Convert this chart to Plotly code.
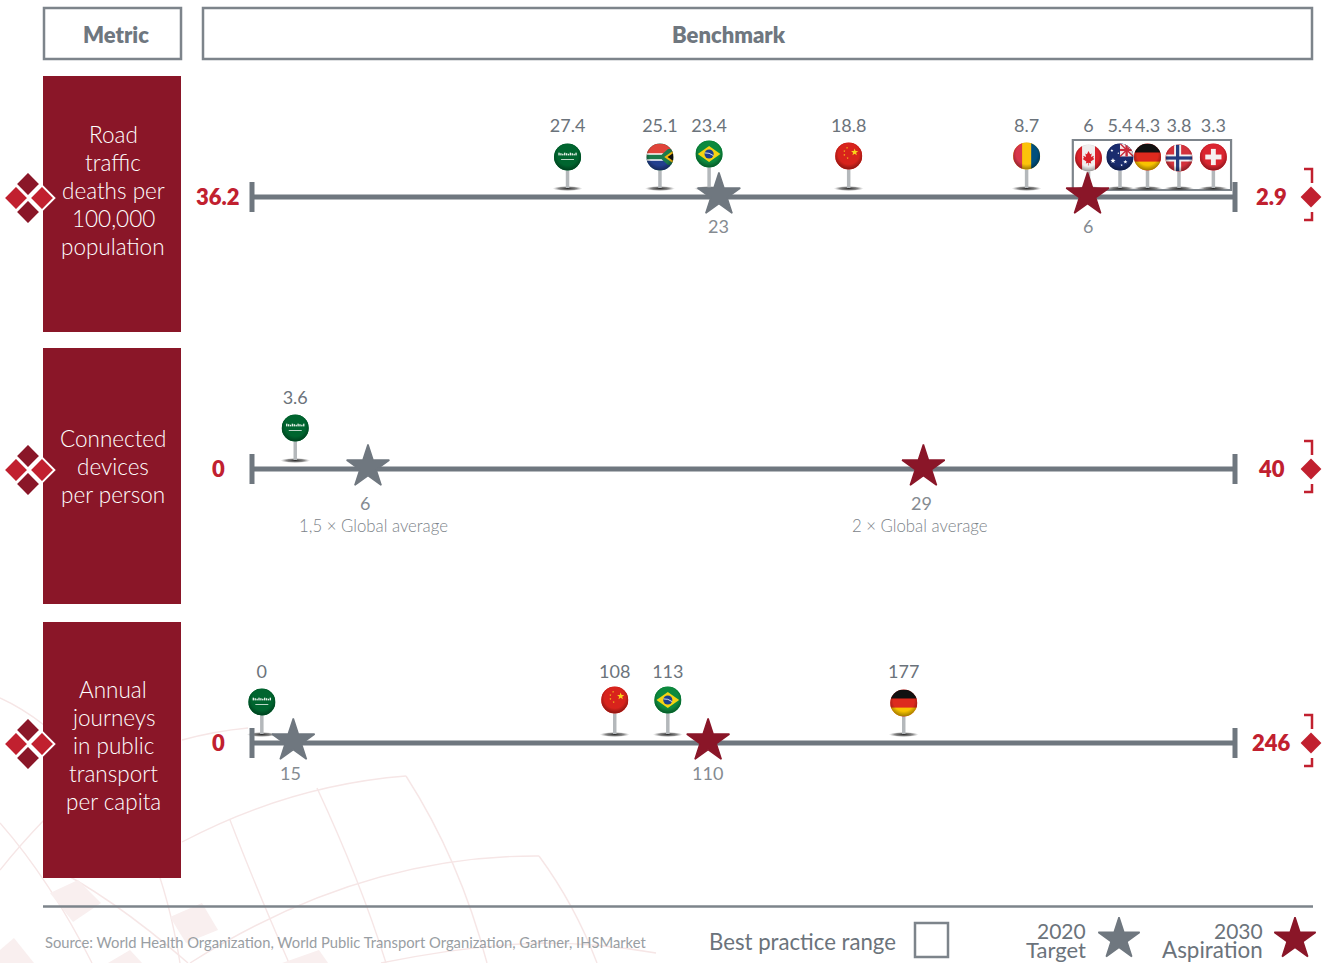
import base64
import math
import plotly.graph_objects as go

# ---------- data ----------
metrics = ["Road traffic deaths per 100,000 population", "Connected devices per person",
           "Annual journeys in public transport per capita"]
metric_lines = [["Road", "traffic", "deaths per", "100,000", "population"],
                ["Connected", "devices", "per person"],
                ["Annual", "journeys", "in public", "transport", "per capita"]]
scale_start = ["36.2", "0", "0"]
scale_end = ["2.9", "40", "246"]

road_countries = ["SA", "ZA", "BR", "CN", "RO", "CA", "AU", "DE", "NO", "CH"]
road_values = ["27.4", "25.1", "23.4", "18.8", "8.7", "6", "5.4", "4.3", "3.8", "3.3"]
road_pos = [32.1, 41.5, 46.5, 60.7, 78.8, 85.1, 88.3, 91.1, 94.3, 97.8]   # % along the bar
devices_countries = ["SA"]
devices_values = ["3.6"]
devices_pos = [4.4]
transport_countries = ["SA", "CN", "BR", "DE"]
transport_values = ["0", "108", "113", "177"]
transport_pos = [1.0, 36.9, 42.3, 66.3]

best_practice_range = [83.5, 99.6]   # % along the road-traffic bar
target_values = ["23", "6", "15"]
target_pos = [47.5, 11.8, 4.2]
aspiration_values = ["6", "29", "110"]
aspiration_pos = [85.0, 68.3, 46.4]
target_notes = ["", "1,5 × Global average", ""]
aspiration_notes = ["", "2 × Global average", ""]
source_text = "Source: World Health Organization, World Public Transport Organization, Gartner, IHSMarket"

# ---------- style ----------
W, H = 1325, 963
FONT = "Lato"
GREY = "#6f777f"
TXT = "#6b737b"
WINE = "#8a1628"
RED = "#c1202f"
BAR_L, BAR_R = 252, 1235
PAD = 30
ROW_TOP = [76, 348, 622]
ROW_H = 256
ROW_BAR = [197, 469, 743]
PX_PER_PCT = (BAR_R - BAR_L) / 100
LIFT = [[40, 40, 43, 41, 41, 39, 40, 40, 39, 40], [41], [41, 43, 43, 40]]
HEAD_COLOR = dict(SA="#00622f", ZA="#2f6b4f", BR="#0c8a3e", CN="#d8231c", RO="#f0b400", CA="#e8e4e4",
                  AU="#1d2f6f", DE="#d8231c", NO="#cf2f36", CH="#d9232e")


def svg_flag(body):
    s = ('<svg xmlns="http://www.w3.org/2000/svg" width="108" height="108" viewBox="-50 -50 100 100">'
         '<defs><clipPath id="c"><circle r="50"/></clipPath>'
         '<radialGradient id="g" cx="0.5" cy="0.42" r="0.62"><stop offset="0.62" stop-color="#000" stop-opacity="0"/>'
         '<stop offset="1" stop-color="#000" stop-opacity="0.45"/></radialGradient></defs>'
         f'<g clip-path="url(#c)">{body}<circle r="50" fill="url(#g)"/></g></svg>')
    return "data:image/svg+xml;base64," + base64.b64encode(s.encode()).decode()


def rect(x, y, w, h, c):
    return f'<rect x="{x}" y="{y}" width="{w}" height="{h}" fill="{c}"/>'


def star5(cx, cy, r, c):
    pts = []
    for i in range(10):
        a = -math.pi / 2 + i * math.pi / 5
        q = r if i % 2 == 0 else r * 0.42
        pts.append(f"{cx + q * math.cos(a):.1f},{cy + q * math.sin(a):.1f}")
    return f'<polygon points="{" ".join(pts)}" fill="{c}"/>'


FLAGS = {
    "SA": rect(-50, -50, 100, 100, "#00652f") + "".join(rect(-34 + i * 7, -16 + (i % 3) * 2, 5, 10 - (i % 3) * 2, "#e8f2ea") for i in range(10))
          + rect(-24, 8, 48, 3, "#e8f2ea"),
    "ZA": rect(-50, -50, 100, 50, "#e0443a") + rect(-50, 0, 100, 50, "#223f8f")
          + '<path d="M-50,-14 L8,-14 L50,-6 L50,6 L8,14 L-50,14 Z" fill="#fff"/>'
          + '<path d="M-50,-8 L6,-8 L30,-30 L50,-30 L50,30 L30,30 L6,8 L-50,8 Z" fill="#1b7a4b"/>'
          + '<path d="M50,-24 L16,0 L50,24 Z" fill="#f2b90f"/><path d="M50,-15 L28,0 L50,15 Z" fill="#111"/>',
    "BR": rect(-50, -50, 100, 100, "#0c8a3e") + '<path d="M-42,0 L0,-30 L42,0 L0,30 Z" fill="#f5d312"/>'
          + '<circle r="17" fill="#1d3f8f"/><path d="M-16,-4 Q0,-6 16,6" stroke="#fff" stroke-width="3" fill="none"/>',
    "CN": rect(-50, -50, 100, 100, "#d8231c") + star5(22, -14, 14, "#f8d21a") + star5(-6, -30, 4, "#f8d21a")
          + star5(-16, -18, 4, "#f8d21a") + star5(-16, -4, 4, "#f8d21a") + star5(-4, 8, 4, "#f8d21a"),
    "RO": rect(-50, -50, 34, 100, "#d9364a") + rect(-16, -50, 33, 100, "#fcc30b") + rect(17, -50, 33, 100, "#00507e"),
    "CA": rect(-50, -50, 100, 100, "#f0eeee") + rect(-50, -50, 26, 100, "#d9202a") + rect(24, -50, 26, 100, "#d9202a")
          + '<path d="M0,-26 L6,-14 L12,-17 L9,-4 L20,-8 L17,0 L22,4 L8,13 L10,20 L1,18 L1,28 L-1,28 L-1,18 L-10,20 L-8,13 L-22,4 L-17,0 L-20,-8 L-9,-4 L-12,-17 L-6,-14 Z" fill="#d9202a"/>',
    "AU": rect(-50, -50, 100, 100, "#1a2c6e") + rect(0, -50, 50, 48, "#f4e9ea")
          + '<path d="M0,-50 L50,-2 M50,-50 L0,-2" stroke="#c8283a" stroke-width="5"/>'
          + rect(20, -50, 9, 48, "#c8283a") + rect(0, -30, 50, 8, "#c8283a")
          + star5(-26, 14, 10, "#fff") + star5(-30, -24, 6, "#fff") + star5(20, 18, 8, "#fff") + star5(6, 30, 5, "#fff") + star5(-6, -14, 4, "#fff"),
    "DE": rect(-50, -50, 100, 34, "#111") + rect(-50, -16, 100, 33, "#dd2a1e") + rect(-50, 17, 100, 33, "#f8c200"),
    "NO": rect(-50, -50, 100, 100, "#d3323c") + rect(-50, -13, 100, 26, "#f2f2f2") + rect(-18, -50, 26, 100, "#f2f2f2")
          + rect(-50, -6, 100, 12, "#263c7f") + rect(-11, -50, 12, 100, "#263c7f"),
    "CH": rect(-50, -50, 100, 100, "#db2530") + rect(-30, -9, 60, 18, "#f6f0f0") + rect(-9, -30, 18, 60, "#f6f0f0"),
}

SHADOW = ('data:image/svg+xml;base64,' + base64.b64encode((
    '<svg xmlns="http://www.w3.org/2000/svg" width="90" height="12" viewBox="0 0 90 12"><defs>'
    '<radialGradient id="s"><stop offset="0" stop-color="#222" stop-opacity="0.95"/>'
    '<stop offset="0.6" stop-color="#555" stop-opacity="0.7"/><stop offset="1" stop-color="#999" stop-opacity="0"/></radialGradient></defs>'
    '<ellipse cx="45" cy="6" rx="45" ry="6" fill="url(#s)"/></svg>').encode()).decode())


def PX(x): return x / W
def PY(y): return 1 - y / H


shapes, annos, images = [], [], []


def line_path(d, color="#f6e6e6", width=1.4):
    shapes.append(dict(type="path", xref="x4", yref="y4", path=d, line=dict(color=color, width=width), layer="below"))


def text(x, y, s, size, color=TXT, anchor="center", weight=400, font=FONT):
    annos.append(dict(x=x, y=y, xref="x4", yref="y4", text=s, showarrow=False, xanchor=anchor, yanchor="middle",
                      font=dict(family=font, size=size, color=color, weight=weight)))


# faint background globe
for d in ["M0,698 Q22,708 44,725", "M0,870 Q20,845 44,820", "M0,823 Q50,880 92,963",
          "M44,863 Q110,895 188,963", "M182,740 Q215,731 248,728", "M182,842 Q290,785 406,776",
          "M230,820 Q255,885 289,963", "M317,788 Q360,880 386,963", "M406,776 Q460,860 487,963",
          "M190,963 Q360,855 539,856", "M539,856 Q575,905 597,963", "M381,963 Q470,945 542,943 Q600,943 656,953",
          "M150,850 Q170,900 180,963"]:
    line_path(d)
for d in ["M50,893 L78,880 L101,903 L73,922 Z", "M170,917 L202,903 L218,930 L186,943 Z",
          "M0,950 L14,938 L34,963 L0,963 Z", "M108,963 L130,950 L142,963 Z", "M282,963 L319,950 L328,963 Z"]:
    shapes.append(dict(type="path", xref="x4", yref="y4", path=d, fillcolor="#f9efef", line=dict(width=0), layer="below"))

# headers
for x0, x1, s, cx in [(44, 181, "Metric", 116), (203, 1312, "Benchmark", 729)]:
    shapes.append(dict(type="rect", xref="x4", yref="y4", x0=x0, x1=x1, y0=8, y1=59, line=dict(color="#7d848b", width=2.5)))
    text(cx, 34, s, 22, GREY, weight=800)

# panels and row chrome
for i in range(3):
    top, bar = ROW_TOP[i], ROW_BAR[i]
    shapes.append(dict(type="rect", xref="x4", yref="y4", x0=43, x1=181, y0=top, y1=top + ROW_H,
                       fillcolor=WINE, line=dict(width=0), layer="below"))
    ls = metric_lines[i]
    first = [134, 438, 689][i]
    for k, s in enumerate(ls):
        text(113, first + k * 28, s, 22.5, "#ffffff", weight=300)
    text(218, bar - 1, scale_start[i], 22, RED, weight=800)
    text(1271, bar - 1, scale_end[i], 22, RED, weight=800)
    for d in [f"M1304,{bar - 28} L1312,{bar - 28} L1312,{bar - 14}", f"M1304,{bar + 23} L1312,{bar + 23} L1312,{bar + 15}"]:
        shapes.append(dict(type="path", xref="x4", yref="y4", path=d, line=dict(color=RED, width=2.5)))

# best-practice range on the first row (beneath its pins and stars), and its legend key
shapes.append(dict(type="rect", xref="x", yref="y", x0=best_practice_range[0], x1=best_practice_range[1], y0=7, y1=57,
                   line=dict(color="#7d848b", width=2.2), layer="below"))
shapes.append(dict(type="rect", xref="x4", yref="y4", x0=915, x1=948, y0=923, y1=957, line=dict(color="#7d848b", width=2.5)))
shapes.append(dict(type="line", xref="x4", yref="y4", x0=43, x1=1313, y0=906.5, y1=906.5, line=dict(color="#7d848b", width=2.5)))

text(42.5, 942, source_text, 14.75, "#999ea3", anchor="left")
text(898, 941.5, "Best practice range", 22.2, TXT, anchor="right")
text(1088, 930, "2020", 21, TXT, anchor="right")
text(1088, 949.5, "Target", 22, TXT, anchor="right")
text(1265, 930, "2030", 21, TXT, anchor="right")
text(1265, 949.5, "Aspiration", 22.4, TXT, anchor="right")

fig = go.Figure()
rows = [(road_countries, road_values, road_pos), (devices_countries, devices_values, devices_pos),
        (transport_countries, transport_values, transport_pos)]
layout_axes = {}
STAR_SIZE = 32
pct_pad = PAD / PX_PER_PCT

for i, (cc, vals, pos) in enumerate(rows):
    n = "" if i == 0 else str(i + 1)
    xa, ya = f"x{n}", f"y{n}"
    top = ROW_TOP[i]
    bar = ROW_BAR[i]
    layout_axes[f"xaxis{n}"] = dict(domain=[PX(BAR_L - PAD), PX(BAR_R + PAD)], range=[-pct_pad, 100 + pct_pad],
                                    visible=False, anchor=ya, fixedrange=True)
    layout_axes[f"yaxis{n}"] = dict(domain=[PY(top + ROW_H), PY(top)], range=[bar - top - ROW_H, bar - top],
                                    visible=False, anchor=xa, fixedrange=True)
    # bar with end caps
    fig.add_trace(go.Scatter(x=[0, 100, None, 0, 0, None, 100, 100], y=[0, 0, None, -15, 15, None, -15, 15], xaxis=xa, yaxis=ya,
                             mode="lines", line=dict(color=GREY, width=5), hoverinfo="skip", showlegend=False))
    # pins
    lift = LIFT[i]
    sx, sy = [], []
    for p, l in zip(pos, lift):
        sx += [p, p, None]
        sy += [l, 9, None]
        images.append(dict(source=SHADOW, xref=xa, yref=ya, x=p, y=8.5, sizex=30 / PX_PER_PCT, sizey=5, sizing="stretch",
                           xanchor="center", yanchor="middle", layer="below"))
    fig.add_trace(go.Scatter(x=sx, y=sy, xaxis=xa, yaxis=ya, mode="lines", line=dict(color="#b4b8bb", width=3.5),
                             hoverinfo="skip", showlegend=False))
    fig.add_trace(go.Scatter(x=pos, y=lift, xaxis=xa, yaxis=ya, mode="markers",
                             marker=dict(size=27, color=[HEAD_COLOR[c] for c in cc], line=dict(width=0)),
                             name=metrics[i], showlegend=False))
    fig.add_trace(go.Scatter(x=pos, y=[70] * len(pos), xaxis=xa, yaxis=ya, mode="text", text=vals,
                             textfont=dict(family=FONT, size=18, color=TXT), textposition="middle center",
                             hoverinfo="skip", showlegend=False))
    for p, l, c in zip(pos, lift, cc):
        images.append(dict(source=svg_flag(FLAGS[c]), xref=xa, yref=ya, x=p, y=l, sizex=27 / PX_PER_PCT, sizey=27, sizing="stretch",
                           xanchor="center", yanchor="middle", layer="above"))
    # stars
    fig.add_trace(go.Scatter(x=[target_pos[i]], y=[2], xaxis=xa, yaxis=ya, mode="markers",
                             marker=dict(symbol="star", size=STAR_SIZE, color=GREY, line=dict(width=1.5, color=GREY)),
                             name="2020 Target", showlegend=False))
    fig.add_trace(go.Scatter(x=[aspiration_pos[i]], y=[2], xaxis=xa, yaxis=ya, mode="markers",
                             marker=dict(symbol="star", size=STAR_SIZE, color=WINE, line=dict(width=1.5, color=WINE)),
                             name="2030 Aspiration", showlegend=False))
    # star captions
    for p, v, note, xs in [(target_pos[i], target_values[i], target_notes[i], [0, -3, -3][i]),
                           (aspiration_pos[i], aspiration_values[i], aspiration_notes[i], [0, -2, -1][i])]:
        yv = -29 if i == 0 else (-34 if i == 1 else -30)
        annos.append(dict(x=p, y=yv, xref=xa, yref=ya, xshift=xs, text=v, showarrow=False, yanchor="middle",
                          font=dict(family=FONT, size=18, color="#858b91")))
        if note:
            annos.append(dict(x=p, y=-56.5, xref=xa, yref=ya, xshift=6 if p < 50 else -3, text=note, showarrow=False, yanchor="middle",
                              font=dict(family=FONT, size=16.8, color="#7c8389", weight=300)))

# overlay pixel axes for chrome: diamonds and legend stars
layout_axes["xaxis4"] = dict(domain=[0, 1], range=[0, W], visible=False, anchor="y4", fixedrange=True)
layout_axes["yaxis4"] = dict(domain=[0, 1], range=[H, 0], visible=False, anchor="x4", fixedrange=True)
for bar in ROW_BAR:
    fig.add_trace(go.Scatter(x=[28, 28], y=[bar - 13, bar + 15], xaxis="x4", yaxis="y4", mode="markers", hoverinfo="skip", showlegend=False,
                             marker=dict(symbol="diamond", size=19, color=WINE, line=dict(color="#fff", width=2))))
    fig.add_trace(go.Scatter(x=[16, 42], y=[bar + 1, bar + 1], xaxis="x4", yaxis="y4", mode="markers", hoverinfo="skip", showlegend=False,
                             marker=dict(symbol="diamond", size=19, color=RED, line=dict(color="#fff", width=2))))
    fig.add_trace(go.Scatter(x=[1311], y=[bar], xaxis="x4", yaxis="y4", mode="markers", hoverinfo="skip", showlegend=False,
                             marker=dict(symbol="diamond", size=16, color=RED, line=dict(width=0))))
fig.add_trace(go.Scatter(x=[1119], y=[939], xaxis="x4", yaxis="y4", mode="markers", hoverinfo="skip", showlegend=False,
                         marker=dict(symbol="star", size=STAR_SIZE - 1, color=GREY, line=dict(width=1.5, color=GREY))))
fig.add_trace(go.Scatter(x=[1295], y=[939], xaxis="x4", yaxis="y4", mode="markers", hoverinfo="skip", showlegend=False,
                         marker=dict(symbol="star", size=STAR_SIZE - 1, color=WINE, line=dict(width=1.5, color=WINE))))

fig.update_layout(width=W, height=H, margin=dict(l=0, r=0, t=0, b=0), paper_bgcolor="white", plot_bgcolor="rgba(0,0,0,0)",
                  showlegend=False, shapes=shapes, annotations=annos, images=images, hovermode=False,
                  font=dict(family=FONT), **layout_axes)
fig.write_html("out.html", config=dict(displayModeBar=False), post_script="document.body.style.margin='0';")
